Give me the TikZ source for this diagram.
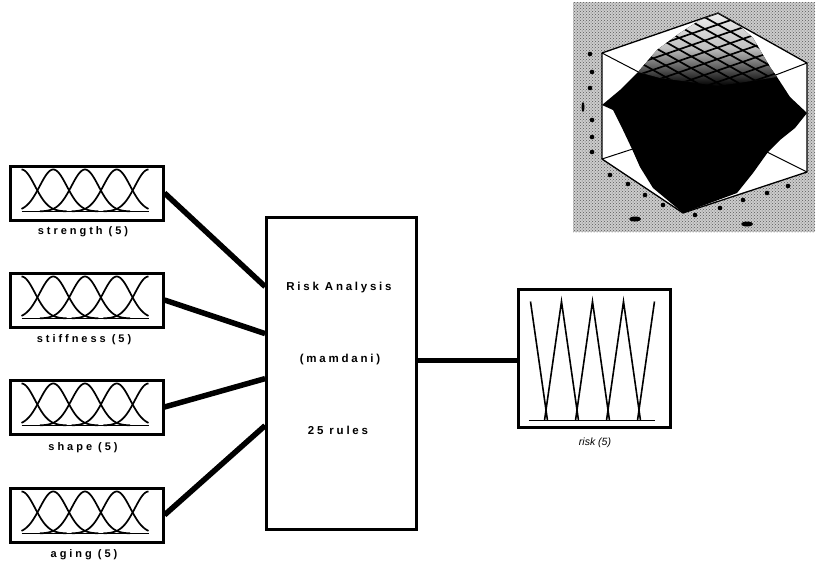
\documentclass[tikz,border=0pt]{standalone}
\usepackage{fontspec}
\newfontfamily\labfont[LetterSpace=27]{Liberation Sans}
\newfontfamily\fisfont[LetterSpace=24]{Liberation Sans}
\newfontfamily\plainfont{Liberation Sans}
\usetikzlibrary{calc,patterns}
\newcommand\mfcurves[1]{%
  \begin{scope}[shift={(#1.north west)}]
    \draw[mfcurve] (13,47) -- (140,47);
    \foreach \c/\a/\b in {13/13/58, 44.75/13/89.75, 76.5/31.5/121.5, 108.25/63.25/140, 140/95/140}
      \draw[mfcurve] plot[domain=\a:\b, samples=60, smooth] (\x,{47-42*exp(-0.5*((\x-\c)/13.5)^2)});
  \end{scope}}
\begin{document}
\begin{tikzpicture}[x=1pt,y=-1pt,
  mfbox/.style={draw, line width=3pt, minimum width=153pt, minimum height=54pt, inner sep=0pt},
  mfcurve/.style={line width=1.7pt},
  conn/.style={line width=5.5pt},
  lab/.style={font=\labfont\bfseries\fontsize{11}{13}\selectfont, inner sep=0pt},
  fistext/.style={font=\fisfont\bfseries\fontsize{11.5}{13}\selectfont, inner sep=0pt},
  edge3d/.style={line width=1.3pt, line join=round},
  blob/.style={fill=black}
]
\useasboundingbox (0,0) rectangle (818,565);

% input membership boxes
\node[mfbox] (strength)  at (86.5,193) {};
\node[mfbox] (stiffness) at (86.5,300) {};
\node[mfbox] (shape)     at (86.5,407) {};
\node[mfbox] (aging)     at (86.5,515) {};
\mfcurves{strength}
\mfcurves{stiffness}
\mfcurves{shape}
\mfcurves{aging}
\node[lab] (lstrength)  at (83,232) {strength (5)};
\node[lab] (lstiffness) at (84,340) {stiffness (5)};
\node[lab] (lshape)     at (83,448) {shape (5)};
\node[lab] (laging)     at (84,555) {aging (5)};

% inference box
\node[draw, line width=2.8pt, minimum width=150pt, minimum height=312pt, inner sep=0pt] (fis) at (341.5,373.5) {};
\node[fistext] (t1) at (339,288) {Risk Analysis};
\node[fistext] (t2) at (340,360) {(mamdani)};
\node[fistext] (t3) at (338,430) {25 rules};

% output box
\node[draw, line width=3pt, minimum width=152pt, minimum height=138pt, inner sep=0pt] (risk) at (594,358) {};
\begin{scope}[shift={(risk.north west)}, line width=1.6pt, line join=miter]
  \draw (12,133) -- (138,133);
  \draw (14,14) -- (31,133);
  \draw (28,133) -- (45,14) -- (62,133);
  \draw (59,133) -- (76,14) -- (93,133);
  \draw (90,133) -- (107,14) -- (124,133);
  \draw (121,133) -- (138,14);
\end{scope}
\node[font=\plainfont\itshape\fontsize{10.5}{12}\selectfont, inner sep=0pt] (lrisk) at (595,443) {risk (5)};

% connectors
\coordinate (f1) at ($(fis.north west)+(0,70.5)$);
\coordinate (f2) at ($(fis.north west)+(0,117.5)$);
\coordinate (f3) at ($(fis.north west)+(0,162.5)$);
\coordinate (f4) at ($(fis.north west)+(0,209.5)$);
\coordinate (fo) at ($(fis.north east)+(0,144.5)$);
\draw[conn] (strength.east) -- (f1);
\draw[conn] (stiffness.east) -- (f2);
\draw[conn] (shape.east) -- (f3);
\draw[conn] (aging.east) -- (f4);
\draw[conn] (fo) -- (fo -| risk.west);

% surface plot (top right)
\fill[gray!40] (573,2) rectangle (815,232);
\fill[pattern=crosshatch dots, pattern color=gray!70!black] (573,2) rectangle (815,232);
\fill[white] (602,53) -- (718,13) -- (807,63) -- (807,172) -- (683,213) -- (602,159) -- cycle;
\draw[edge3d] (602,53) -- (718,13) -- (807,63) -- (807,172) -- (683,213) -- (602,159) -- cycle;
\draw[line width=1pt] (602,53) -- (650,78);
\draw[line width=1pt] (807,63) -- (760,81);
\draw[line width=1pt] (602,159) -- (645,145);
\draw[line width=1pt] (807,172) -- (755,146);
\fill[black] (602,105) -- (620,90) -- (638,72) -- (657,50) -- (680,33) -- (700,20) -- (718,13) -- (735,22) -- (753,38) -- (770,67) -- (777,77) -- (790,97) -- (807,113) -- (795,128) -- (780,140) -- (768,152) -- (753,173) -- (737,193) -- (683,213) -- (653,188) -- (640,167) -- (632,149) -- (623,130) -- (613,110) -- cycle;
\begin{scope}
  \clip (638,72) -- (657,50) -- (680,33) -- (700,20) -- (718,13) -- (735,22) -- (753,38) -- (770,67) -- (777,77) -- (745,82) -- (717,86) -- (690,82) -- (660,78) -- cycle;
  \shade[top color=gray!10, bottom color=black, middle color=gray!50] (630,10) rectangle (790,86);
  \foreach \k in {0,...,7} \draw[line width=1.7pt] ($(718,13)+\k*(12.7,7.1)$) -- ++(-116,40);
  \foreach \k in {0,...,9} \draw[line width=1.7pt] ($(718,13)+\k*(-12.9,4.44)$) -- ++(89,50);
\end{scope}
% tick marks (illegible)
\foreach \p in {(590,54),(592,72),(590,88),(592,120),(592,137),(592,152),
                (610,175),(628,184),(645,195),(663,205),
                (788,186),(767,193),(743,200),(720,208),(695,215)}
  \fill[blob] \p ellipse (2.3pt and 2.3pt);
\fill[blob] (583,107) ellipse (1.5pt and 5pt);
\fill[blob] (635,219) ellipse (6pt and 2.5pt);
\fill[blob] (747,224) ellipse (6pt and 2.5pt);
\end{tikzpicture}
\end{document}
